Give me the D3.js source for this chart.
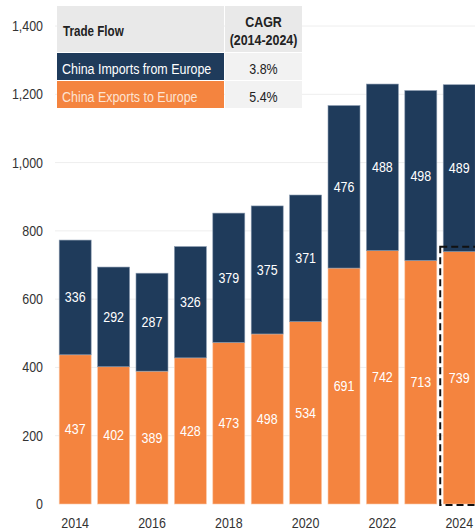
<!DOCTYPE html>
<html>
<head>
<meta charset="utf-8">
<script src="https://cdn.jsdelivr.net/npm/d3@7"></script>
<style>
  body { margin: 0; background: #fff; }
  svg { display: block; }
  text { font-family: "Liberation Sans Narrow", "Arial Narrow", "Liberation Sans", Arial, sans-serif; }
</style>
</head>
<body>
<div id="chart"></div>
<script>
const years = ['2014','2015','2016','2017','2018','2019','2020','2021','2022','2023','2024'];
const exportsEU = [437, 402, 389, 428, 473, 498, 534, 691, 742, 713, 739];
const importsEU = [336, 292, 287, 326, 379, 375, 371, 476, 488, 498, 489];
const yTicks = [0, 200, 400, 600, 800, 1000, 1200, 1400];
const xTickLabels = ['2014','2016','2018','2020','2022','2024'];
const tableHead = ['Trade Flow', 'CAGR', '(2014-2024)'];
const tableRows = [['China Imports from Europe', '3.8%'], ['China Exports to Europe', '5.4%']];

const W = 475, H = 531;
const NAVY = '#1f3b5b', ORANGE = '#f4843f';
const SX = 0.83; // narrow the font, no condensed face installed

const svg = d3.select('#chart').append('svg').attr('width', W).attr('height', H);

// place text at (px, py) squeezed horizontally
function narrow(sel, px, py) {
  return sel.attr('x', 0).attr('y', 0)
    .attr('transform', (d, i) => `translate(${typeof px === 'function' ? px(d, i) : px},${typeof py === 'function' ? py(d, i) : py}) scale(${SX},1)`);
}

const x = d3.scaleBand().domain(years).range([56, 478.4]).paddingInner(0.167).paddingOuter(0.083);
const y = d3.scaleLinear().domain([0, 1400]).range([504, 26]);

// grid
svg.append('g').selectAll('line').data(yTicks.slice(1)).join('line')
  .attr('x1', 55).attr('x2', W)
  .attr('y1', d => y(d)).attr('y2', d => y(d))
  .attr('stroke', '#eeeeee').attr('stroke-width', 1);

// y axis labels
narrow(svg.append('g').selectAll('text').data(yTicks).join('text'), 43, d => y(d) + 5)
  .attr('text-anchor', 'end')
  .attr('font-size', 15).attr('fill', '#333')
  .text(d => d3.format(',')(d));

// x labels
narrow(svg.append('g').selectAll('text').data(xTickLabels).join('text'), d => x(d) + x.bandwidth() / 2, 528)
  .attr('text-anchor', 'middle')
  .attr('font-size', 15).attr('fill', '#333')
  .text(d => d);

const rows = years.map((yr, i) => ({ yr, exp: exportsEU[i], imp: importsEU[i] }));

const bars = svg.append('g');
// exports (bottom)
bars.selectAll('rect.exp').data(rows).join('rect').attr('class', 'exp')
  .attr('x', d => x(d.yr)).attr('width', x.bandwidth())
  .attr('y', d => y(d.exp)).attr('height', d => y(0) - y(d.exp))
  .attr('fill', ORANGE).attr('stroke', '#fbc9a9').attr('stroke-width', 0.6);
// imports (top)
bars.selectAll('rect.imp').data(rows).join('rect').attr('class', 'imp')
  .attr('x', d => x(d.yr)).attr('width', x.bandwidth())
  .attr('y', d => y(d.exp + d.imp)).attr('height', d => y(d.exp) - y(d.exp + d.imp))
  .attr('fill', NAVY).attr('stroke', '#8a9bb0').attr('stroke-width', 0.6);

// value labels
narrow(bars.selectAll('text.exp').data(rows).join('text').attr('class', 'exp'),
    d => x(d.yr) + x.bandwidth() / 2, d => y(d.exp / 2) + 5)
  .attr('text-anchor', 'middle').attr('font-size', 15).attr('fill', '#fff')
  .text(d => d.exp);
narrow(bars.selectAll('text.imp').data(rows).join('text').attr('class', 'imp'),
    d => x(d.yr) + x.bandwidth() / 2, d => y(d.exp + d.imp / 2) + 5)
  .attr('text-anchor', 'middle').attr('font-size', 15).attr('fill', '#fff')
  .text(d => d.imp);

// dashed highlight around 2024 exports
const last = rows[rows.length - 1];
svg.append('rect')
  .attr('x', x(last.yr) - 3).attr('y', y(last.exp) - 5)
  .attr('width', x.bandwidth() + 10).attr('height', y(0) - y(last.exp) + 6)
  .attr('fill', 'none').attr('stroke', '#111').attr('stroke-width', 2)
  .attr('stroke-dasharray', '7,4');

// table
const tb = svg.append('g');
const c0 = 57, c1 = 225, c2 = 302;
tb.append('rect').attr('x', c0).attr('y', 6).attr('width', c1 - c0 - 1).attr('height', 46).attr('fill', '#e9e9e9');
tb.append('rect').attr('x', c1).attr('y', 6).attr('width', c2 - c1).attr('height', 46).attr('fill', '#e9e9e9');
const rowY = [53, 81], rowH = 27, rowFill = [NAVY, ORANGE];
tableRows.forEach((r, i) => {
  tb.append('rect').attr('x', c0).attr('y', rowY[i]).attr('width', c1 - c0 - 1).attr('height', rowH).attr('fill', rowFill[i]);
  tb.append('rect').attr('x', c1).attr('y', rowY[i]).attr('width', c2 - c1).attr('height', rowH).attr('fill', '#f2f2f2');
  narrow(tb.append('text'), c0 + 5, rowY[i] + 21)
    .attr('font-size', 15).attr('fill', i === 0 ? '#fff' : '#fde3d2').text(r[0]);
  narrow(tb.append('text'), (c1 + c2) / 2, rowY[i] + 21)
    .attr('text-anchor', 'middle').attr('font-size', 15).attr('fill', '#222').text(r[1]);
});
narrow(tb.append('text'), c0 + 6, 36)
  .attr('font-size', 14).attr('font-weight', 'bold').attr('fill', '#222').text(tableHead[0]);
narrow(tb.append('text'), (c1 + c2) / 2, 27)
  .attr('text-anchor', 'middle').attr('font-size', 15).attr('font-weight', 'bold').attr('fill', '#222').text(tableHead[1]);
narrow(tb.append('text'), (c1 + c2) / 2, 45)
  .attr('text-anchor', 'middle').attr('font-size', 15).attr('font-weight', 'bold').attr('fill', '#222').text(tableHead[2]);
</script>
</body>
</html>
